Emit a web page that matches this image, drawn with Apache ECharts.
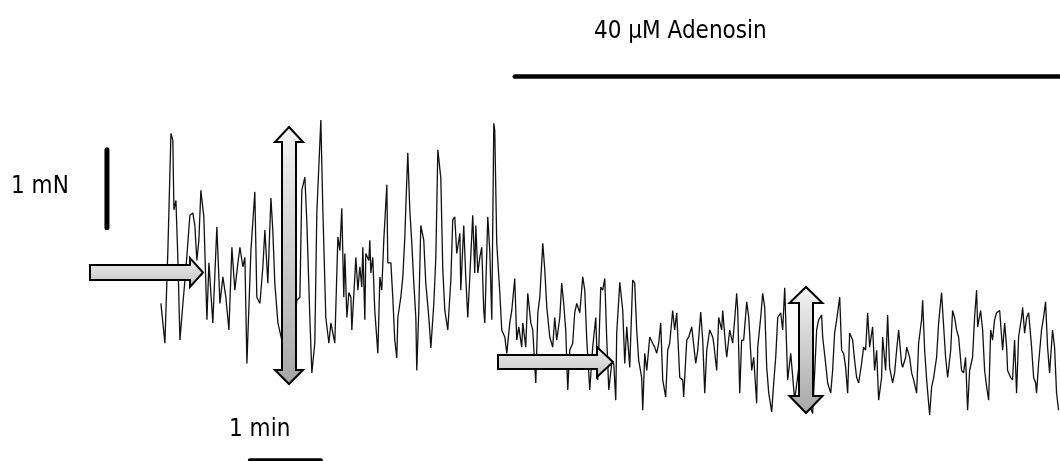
<!DOCTYPE html>
<html>
<head>
<meta charset="utf-8">
<title>Adenosine tension trace</title>
<script src="https://cdn.jsdelivr.net/npm/echarts@6/dist/echarts.min.js"></script>
<style>
  html, body { margin: 0; padding: 0; background: #fff; }
  #chart { width: 1060px; height: 461px; }
</style>
</head>
<body>
<div id="chart"></div>
<script>
// Isometric tension recording: [time (s), tension (mN)]
const controlPhase = [
  [0, 2.24], [3.4, 1.73], [5.9, 2.92], [8.5, 4.42], [10.1, 4.33], [11.0, 3.44], [12.7, 3.56], [14.4, 2.79], [16.1, 1.77], [18.6, 2.24],
  [21.1, 2.67], [24.5, 3.37], [27.0, 3.40], [28.7, 3.24], [30.4, 2.79], [32.1, 3.05], [33.8, 3.69], [36.3, 3.35], [38.9, 2.03], [40.6, 2.76],
  [43.9, 1.99], [47.3, 3.22], [49.9, 2.24], [52.4, 2.58], [54.9, 2.32], [57.5, 1.90], [60.0, 2.96], [62.5, 2.41], [65.1, 2.76], [66.8, 2.96],
  [69.3, 2.71], [71.0, 2.83], [72.7, 1.47], [76.1, 2.92], [79.4, 3.67], [81.1, 2.32], [83.7, 2.24], [86.2, 2.71], [87.9, 3.18], [90.4, 2.50],
  [93.0, 3.59], [94.6, 3.18], [96.3, 2.50], [98.9, 1.99], [102.2, 1.77], [106.5, 2.28], [110.7, 1.64], [114.9, 2.28], [117.5, 2.32], [119.1, 3.69],
  [121.7, 3.86], [123.4, 3.27], [125.9, 2.06], [127.6, 1.35], [130.1, 1.73], [131.8, 3.40], [135.2, 4.59], [136.9, 3.44], [139.4, 2.06], [142.0, 1.73],
  [143.7, 1.99], [147.0, 1.73], [149.6, 3.09], [151.3, 2.92], [152.9, 3.46], [154.6, 2.32], [155.5, 2.88], [157.2, 2.06], [158.9, 2.38], [160.6, 2.32],
  [161.4, 1.90], [163.9, 2.58], [164.8, 2.83], [166.5, 2.41], [168.2, 2.71], [169.8, 2.45], [170.7, 2.96], [172.4, 2.03], [173.2, 2.88], [175.8, 2.79],
  [176.6, 3.05], [177.5, 2.63], [179.1, 2.83], [180.8, 2.15], [183.4, 1.60], [185.1, 2.58], [186.7, 2.41], [188.4, 3.05], [191.0, 3.76], [191.8, 2.76],
  [194.4, 2.76], [196.0, 2.32], [197.7, 1.77], [199.4, 1.54], [200.3, 2.06], [202.8, 2.32], [204.5, 2.58], [206.2, 3.09], [207.0, 3.46], [208.7, 4.17],
  [210.4, 3.44], [212.1, 3.01], [213.8, 2.50], [215.5, 2.06], [216.3, 1.38], [218.0, 2.15], [219.7, 3.24], [222.2, 3.05], [223.9, 2.50], [226.5, 2.06],
  [228.2, 1.67], [230.7, 2.24], [232.4, 2.83], [234.1, 4.21], [236.6, 3.85], [238.3, 2.67], [240.0, 2.15], [242.5, 1.90], [245.1, 2.54], [246.7, 3.31],
  [248.4, 3.35], [250.1, 2.88], [252.7, 3.14], [253.5, 2.41], [256.0, 3.24], [257.7, 2.58], [259.4, 2.06], [261.1, 2.58], [263.6, 3.37], [265.3, 2.63],
  [266.2, 3.24], [267.9, 2.63], [269.6, 2.83], [271.2, 2.96], [272.9, 2.15], [273.8, 1.99], [276.3, 3.35], [278.0, 2.92], [279.7, 2.03], [281.4, 4.55],
  [282.2, 4.46], [283.9, 3.01], [286.5, 2.37], [288.1, 1.90], [290.7, 1.81], [292.4, 1.60], [294.9, 1.99], [296.6, 2.15], [299.1, 2.56]
];

const adenosinePhase = [
  [300.8, 1.77], [302.5, 1.94], [305.0, 1.68], [305.9, 1.99], [308.4, 1.68], [310.1, 2.37], [312.7, 1.99], [314.3, 1.90], [316.9, 1.22], [318.6, 2.12],
  [320.3, 2.32], [322.8, 3.01], [324.5, 2.67], [326.2, 2.19], [328.7, 1.81], [331.2, 1.68], [332.9, 2.06], [334.6, 1.77], [337.2, 2.06], [338.8, 2.50],
  [340.5, 2.24], [342.2, 1.90], [343.9, 1.13], [345.6, 1.64], [348.1, 1.73], [349.8, 2.12], [351.5, 2.24], [354.1, 2.12], [356.6, 2.58], [358.3, 2.41],
  [360.0, 1.77], [362.5, 1.13], [365.0, 1.68], [367.6, 2.06], [369.3, 1.26], [371.8, 2.45], [373.5, 2.41], [375.2, 2.56], [376.9, 1.77], [378.6, 1.13],
  [381.1, 1.47], [382.8, 1.47], [384.5, 1.00], [385.3, 1.86], [387.9, 2.51], [390.4, 2.15], [392.1, 1.47], [393.8, 1.94], [396.3, 1.42], [398.8, 2.54],
  [400.5, 2.50], [402.2, 1.90], [403.9, 1.51], [406.4, 1.29], [407.3, 0.87], [409.0, 1.60], [410.7, 1.38], [413.2, 1.81], [415.7, 1.73], [417.4, 1.68],
  [419.1, 1.60], [420.8, 1.73], [422.5, 1.99], [424.2, 1.26], [426.7, 1.04], [428.4, 1.64], [430.1, 1.73], [432.6, 2.15], [434.3, 1.90], [436.0, 2.12],
  [438.6, 1.29], [441.1, 1.26], [441.9, 1.04], [444.5, 1.77], [446.2, 1.81], [448.7, 1.94], [449.5, 1.94], [452.1, 1.47], [453.8, 1.64], [456.3, 2.13],
  [458.0, 1.77], [459.7, 1.09], [461.4, 1.64], [463.9, 1.90], [466.4, 1.81], [467.3, 1.73], [469.8, 1.38], [471.5, 2.06], [474.0, 1.90], [474.9, 2.15],
  [477.4, 1.68], [478.3, 1.55], [480.8, 1.90], [483.3, 1.73], [485.0, 2.03], [486.7, 2.37], [487.6, 2.15], [489.3, 1.09], [490.9, 1.77], [492.6, 1.77],
  [495.2, 2.26], [496.9, 2.06], [499.4, 1.38], [501.1, 1.55], [503.6, 0.96], [504.5, 1.68], [507.0, 2.06], [508.7, 2.37], [510.4, 2.19], [512.1, 1.42],
  [513.8, 1.09], [516.3, 0.85], [518.0, 1.22], [519.7, 1.55], [521.4, 2.06], [523.9, 2.12], [525.6, 1.90], [527.3, 2.44], [529.8, 1.26], [532.4, 1.60],
  [535.7, 1.00], [540.0, 1.51], [544.2, 1.13], [548.4, 0.94], [550.9, 0.83], [552.6, 1.35], [554.3, 1.90], [556.0, 2.03], [558.5, 2.09], [559.4, 1.81],
  [561.9, 1.47], [563.6, 1.22], [566.2, 1.09], [567.8, 1.38], [569.5, 1.86], [571.2, 2.03], [573.8, 2.32], [575.4, 1.64], [577.1, 1.60], [578.8, 1.42],
  [580.5, 1.09], [582.2, 1.86], [584.7, 1.77], [586.4, 1.51], [588.1, 1.29], [589.8, 1.22], [592.3, 1.47], [594.0, 1.68], [595.7, 1.64], [597.4, 2.12],
  [599.1, 1.68], [601.6, 1.94], [603.3, 1.38], [605.0, 1.64], [606.7, 1.00], [609.2, 1.29], [610.1, 1.81], [612.6, 1.38], [614.3, 2.09], [616.0, 1.42],
  [618.5, 1.22], [620.2, 1.35], [621.9, 1.64], [623.6, 1.90], [626.1, 1.47], [627.0, 1.42], [629.5, 1.55], [630.4, 1.68], [632.9, 1.55], [634.6, 1.35],
  [636.3, 1.26], [638.8, 1.09], [640.5, 1.73], [643.0, 2.03], [643.9, 2.28], [645.6, 1.64], [647.3, 1.26], [649.8, 0.81], [651.5, 1.17], [653.2, 1.29],
  [655.7, 1.55], [657.4, 1.99], [659.9, 2.38], [660.8, 2.15], [663.3, 1.55], [665.0, 1.29], [667.6, 1.64], [669.2, 2.15], [670.9, 2.06], [672.6, 1.90],
  [674.3, 1.81], [676.8, 1.38], [678.5, 1.35], [680.2, 1.55], [681.9, 0.87], [683.6, 1.38], [686.1, 1.55], [687.8, 2.06], [689.5, 2.41], [690.4, 1.94],
  [692.9, 2.15], [694.6, 1.90], [696.3, 1.38], [698.0, 1.17], [699.7, 1.00], [701.4, 1.90], [703.0, 1.77], [704.7, 2.03], [706.4, 2.12], [709.0, 2.15],
  [711.5, 1.64], [713.2, 1.99], [714.9, 1.68], [715.7, 1.38], [718.3, 1.29], [719.9, 1.26], [721.6, 1.77], [723.3, 1.09], [725.0, 1.81], [727.5, 2.06],
  [728.4, 2.19], [730.1, 1.86], [731.8, 2.06], [733.5, 2.12], [736.0, 1.68], [737.7, 1.29], [739.4, 1.22], [740.2, 1.09], [741.9, 1.47], [744.4, 1.90],
  [746.1, 2.06], [747.8, 2.26], [749.5, 1.68], [751.2, 1.35], [753.7, 1.90], [755.4, 1.68], [757.1, 1.09], [758.8, 0.87]
];

// Calibration bars and the drug application bar (time s, tension mN)
const forceScaleBar = [[-45.6, 4.21], [-45.6, 3.21]];   // 1 mN
const timeScaleBar = [[75.2, 0.23], [135.2, 0.23]];     // 1 min = 60 s
const adenosineBar = [[299.1, 5.15], [760, 5.15]];      // 40 µM adenosine present

const labels = {
  force: '1 mN',
  time: '1 min',
  drug: '40 µM Adenosin'
};

const FONT = "'DejaVu Sans Condensed', 'DejaVu Sans', sans-serif";

const chart = echarts.init(document.getElementById('chart'), null, { renderer: 'canvas' });

function barSeries(data, width) {
  return {
    type: 'line',
    data: data,
    showSymbol: false,
    symbol: 'none',
    silent: true,
    lineStyle: { color: '#000', width: width, cap: 'round' },
    z: 3
  };
}

// Block arrow outlines (pixel positions on the canvas)
function hArrow(x0, x1, xTip, yc, bodyH, headH) {
  return [
    [x0, yc - bodyH / 2], [x1, yc - bodyH / 2], [x1, yc - headH / 2], [xTip, yc],
    [x1, yc + headH / 2], [x1, yc + bodyH / 2], [x0, yc + bodyH / 2]
  ];
}
function vArrow(xc, yTop, yTopBase, yBotBase, yBot, bodyW, headW) {
  return [
    [xc, yTop], [xc + headW / 2, yTopBase], [xc + bodyW / 2, yTopBase], [xc + bodyW / 2, yBotBase],
    [xc + headW / 2, yBotBase], [xc, yBot], [xc - headW / 2, yBotBase], [xc - bodyW / 2, yBotBase],
    [xc - bodyW / 2, yTopBase], [xc - headW / 2, yTopBase]
  ];
}
const hFill = {
  type: 'linear', x: 0, y: 0, x2: 0, y2: 1,
  colorStops: [{ offset: 0, color: '#f0f0f0' }, { offset: 1, color: '#c2c2c2' }]
};
const vFill = {
  type: 'linear', x: 0, y: 0, x2: 0, y2: 1,
  colorStops: [{ offset: 0, color: '#f4f4f4' }, { offset: 1, color: '#a6a6a6' }]
};
function arrow(points, fill) {
  return {
    type: 'polygon',
    z: 20,
    silent: true,
    shape: { points: points },
    style: { fill: fill, stroke: '#000', lineWidth: 2, lineJoin: 'miter' }
  };
}
function text(str, x, y) {
  return {
    type: 'text',
    z: 20,
    silent: true,
    x: x, y: y,
    style: { text: str, fill: '#000', font: '24px ' + FONT, align: 'left', verticalAlign: 'middle' }
  };
}

chart.setOption({
  animation: false,
  backgroundColor: '#fff',
  grid: { left: 0, right: 0, top: 0, bottom: 0 },
  xAxis: { type: 'value', min: -136, max: 760, show: false },
  yAxis: { type: 'value', min: 0.22, max: 6.13, show: false },
  series: [
    {
      type: 'line',
      data: controlPhase.concat(adenosinePhase),
      showSymbol: false,
      symbol: 'none',
      silent: true,
      lineStyle: { color: '#111', width: 1.3 },
      z: 2
    },
    barSeries(forceScaleBar, 5),
    barSeries(timeScaleBar, 4),
    barSeries(adenosineBar, 4.5)
  ],
  graphic: [
    arrow(hArrow(90, 190, 203, 272.5, 15, 29), hFill),
    arrow(hArrow(498, 597, 613, 362, 14, 30), hFill),
    arrow(vArrow(289, 127, 142, 370, 384, 14, 28), vFill),
    arrow(vArrow(806, 287, 303, 396, 413, 14, 33), vFill),
    text(labels.force, 11, 187),
    text(labels.time, 229, 430),
    text(labels.drug, 594, 32)
  ]
});
</script>
</body>
</html>
